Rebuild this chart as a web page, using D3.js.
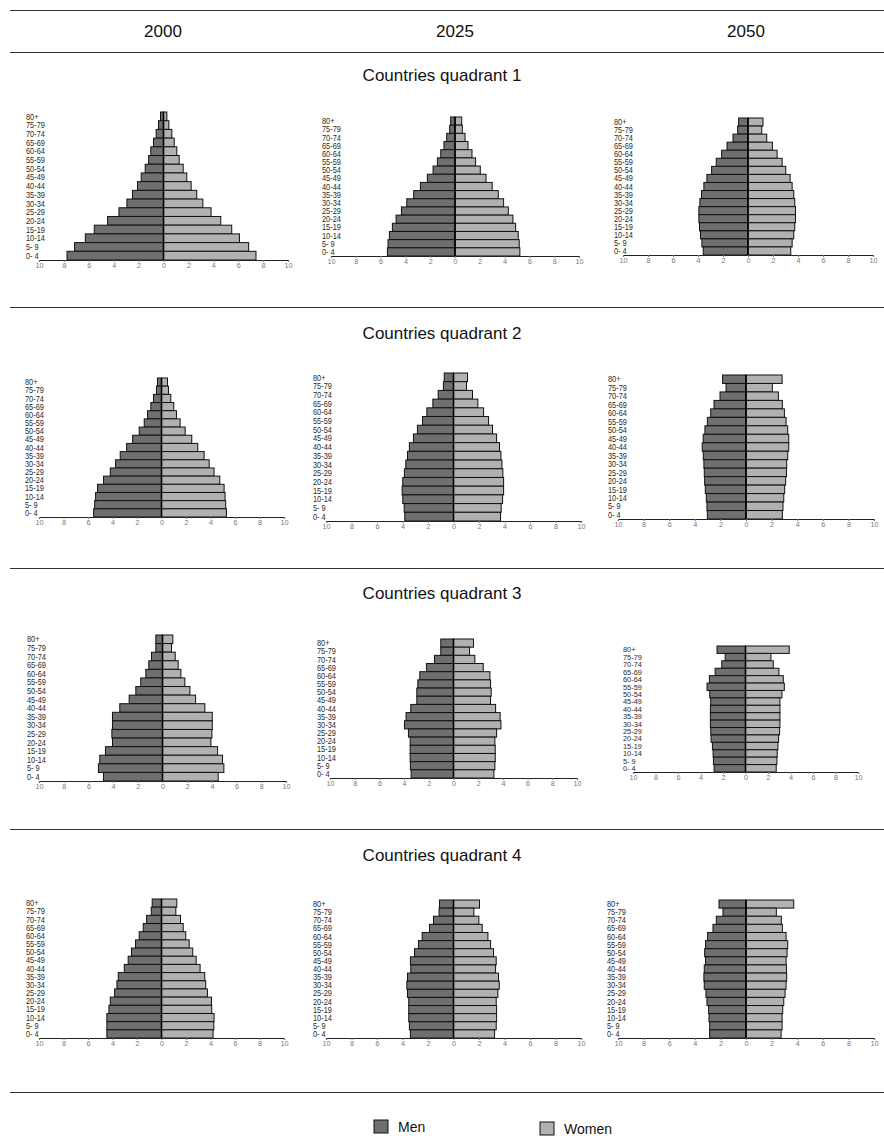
<!DOCTYPE html>
<html><head><meta charset="utf-8">
<script src="https://cdn.jsdelivr.net/npm/d3@7"></script>
<style>
body{margin:0;background:#fff;}
svg{display:block;font-family:"Liberation Sans",Arial,sans-serif;}
</style></head>
<body><svg id="c" width="884" height="1140"></svg>
<script>
// ---- data ----
const years = ["2000", "2025", "2050"];
const quadrants = ["Countries quadrant 1", "Countries quadrant 2", "Countries quadrant 3", "Countries quadrant 4"];
const ageGroups = ["80+","75-79","70-74","65-69","60-64","55-59","50-54","45-49","40-44","35-39","30-34","25-29","20-24","15-19","10-14","5- 9","0- 4"];
const tickValues = [-10,-8,-6,-4,-2,0,2,4,6,8,10];
const legendLabels = ["Men", "Women"];

// values ordered from 80+ (top) down to 0-4 (bottom), percent of population
const menQ1_2000   = [0.24,0.4,0.59,0.8,1.02,1.2,1.47,1.79,2.09,2.49,2.94,3.58,4.49,5.56,6.28,7.14,7.75];
const womenQ1_2000 = [0.27,0.43,0.67,0.86,1.07,1.26,1.58,1.87,2.22,2.67,3.16,3.82,4.6,5.48,6.1,6.84,7.43];
const menQ1_2025   = [0.35,0.43,0.67,0.89,1.15,1.42,1.77,2.23,2.79,3.33,3.89,4.32,4.75,5.05,5.29,5.4,5.45];
const womenQ1_2025 = [0.54,0.59,0.81,1.05,1.37,1.66,2.04,2.5,3.0,3.49,3.92,4.3,4.67,4.89,5.1,5.18,5.23];
const menQ1_2050   = [0.75,0.83,1.2,1.68,2.11,2.54,2.91,3.29,3.53,3.72,3.85,3.93,3.93,3.88,3.8,3.69,3.58];
const womenQ1_2050 = [1.2,1.1,1.5,1.95,2.33,2.73,3.02,3.37,3.53,3.66,3.74,3.8,3.8,3.74,3.66,3.53,3.42];

const menQ2_2000   = [0.33,0.41,0.65,0.87,1.14,1.41,1.82,2.36,2.85,3.37,3.75,4.18,4.73,5.22,5.38,5.46,5.54];
const womenQ2_2000 = [0.49,0.57,0.76,1.0,1.22,1.52,1.93,2.47,2.96,3.48,3.89,4.29,4.76,5.11,5.19,5.24,5.3];
const menQ2_2025   = [0.73,0.79,1.2,1.62,2.09,2.43,2.83,3.14,3.46,3.61,3.74,3.85,3.98,4.03,3.98,3.87,3.82];
const womenQ2_2025 = [1.1,1.02,1.49,1.91,2.36,2.75,3.06,3.38,3.61,3.72,3.8,3.87,3.93,3.93,3.85,3.74,3.69];
const menQ2_2050   = [1.83,1.56,2.03,2.5,2.76,3.02,3.21,3.34,3.42,3.34,3.29,3.26,3.23,3.18,3.1,3.05,3.02];
const womenQ2_2050 = [2.82,2.06,2.53,2.84,3.0,3.13,3.26,3.34,3.34,3.26,3.18,3.16,3.1,3.02,2.95,2.89,2.84];

const menQ3_2000   = [0.54,0.54,0.89,1.11,1.35,1.76,2.16,2.7,3.46,4.05,4.05,4.1,4.05,4.62,5.08,5.19,4.78];
const womenQ3_2000 = [0.84,0.73,1.03,1.27,1.49,1.81,2.22,2.68,3.43,4.03,4.03,4.0,3.92,4.46,4.86,4.97,4.51];
const menQ3_2025   = [1.03,1.03,1.54,2.19,2.73,2.89,2.97,2.97,3.46,3.84,3.97,3.65,3.51,3.51,3.51,3.49,3.43];
const womenQ3_2025 = [1.62,1.3,1.73,2.41,2.95,3.0,3.05,3.0,3.41,3.78,3.84,3.49,3.35,3.38,3.38,3.35,3.27];
const menQ3_2050   = [2.53,1.81,2.11,2.7,3.21,3.42,3.18,3.09,3.12,3.12,3.12,3.09,3.06,2.94,2.88,2.85,2.79];
const womenQ3_2050 = [3.89,2.26,2.47,2.97,3.36,3.45,3.24,3.06,3.06,3.06,3.06,3.03,2.94,2.88,2.82,2.79,2.73];

const menQ4_2000   = [0.76,0.84,1.22,1.49,1.82,2.12,2.45,2.72,3.04,3.53,3.64,3.83,4.18,4.29,4.46,4.46,4.46];
const womenQ4_2000 = [1.25,1.17,1.55,1.77,1.98,2.26,2.55,2.83,3.15,3.53,3.61,3.75,4.08,4.1,4.29,4.27,4.21];
const menQ4_2025   = [1.1,1.13,1.57,1.88,2.46,2.75,3.06,3.38,3.35,3.61,3.66,3.61,3.51,3.51,3.51,3.46,3.38];
const womenQ4_2025 = [2.04,1.6,1.99,2.25,2.7,2.91,3.14,3.35,3.3,3.53,3.59,3.48,3.35,3.38,3.38,3.35,3.22];
const menQ4_2050   = [2.11,1.8,2.32,2.58,3.0,3.16,3.23,3.16,3.26,3.29,3.26,3.13,3.05,2.92,2.89,2.84,2.84];
const womenQ4_2050 = [3.73,2.37,2.76,2.84,3.13,3.26,3.21,3.13,3.16,3.18,3.13,3.05,2.95,2.87,2.82,2.82,2.74];

// ---- layout (positions only) ----
const series = [
  [menQ1_2000, womenQ1_2000], [menQ1_2025, womenQ1_2025], [menQ1_2050, womenQ1_2050],
  [menQ2_2000, womenQ2_2000], [menQ2_2025, womenQ2_2025], [menQ2_2050, womenQ2_2050],
  [menQ3_2000, womenQ3_2000], [menQ3_2025, womenQ3_2025], [menQ3_2050, womenQ3_2050],
  [menQ4_2000, womenQ4_2000], [menQ4_2025, womenQ4_2025], [menQ4_2050, womenQ4_2050]
];
const panelBoxes = [
  {x0:39, x1:288, top:112, axisY:260, labelX:26},
  {x0:331,x1:579, top:117, axisY:256, labelX:322},
  {x0:623,x1:873, top:118, axisY:255, labelX:614},
  {x0:39, x1:284, top:378, axisY:517, labelX:25},
  {x0:326,x1:581, top:373, axisY:521, labelX:313},
  {x0:618,x1:874, top:375, axisY:519, labelX:608},
  {x0:39, x1:286, top:635, axisY:781, labelX:27},
  {x0:330,x1:577, top:639, axisY:778, labelX:317},
  {x0:633,x1:858, top:646, axisY:772, labelX:623},
  {x0:39, x1:284, top:899, axisY:1038, labelX:26},
  {x0:326,x1:581, top:900, axisY:1038, labelX:313},
  {x0:618,x1:874, top:900, axisY:1038, labelX:607}
];
const menColor = "#6f6f6f", womenColor = "#b1b1b1";

const svg = d3.select("#c");

// rules
[10, 52, 307, 568, 829, 1092].forEach(y => {
  svg.append("line").attr("x1", 10).attr("x2", 884).attr("y1", y + 0.5).attr("y2", y + 0.5)
    .attr("stroke", "#333").attr("stroke-width", 1);
});
// year headers
const yearX = [163, 455, 746];
years.forEach((t, i) => {
  svg.append("text").attr("x", yearX[i]).attr("y", 37).attr("text-anchor", "middle")
    .attr("font-size", 17).attr("fill", "#111").text(t);
});
// quadrant titles
const titleY = [81, 339, 599, 861];
quadrants.forEach((t, i) => {
  svg.append("text").attr("x", 442).attr("y", titleY[i]).attr("text-anchor", "middle")
    .attr("font-size", 17).attr("fill", "#111").text(t);
});

// panels
series.forEach(([men, women], i) => {
  const b = panelBoxes[i];
  const x = d3.scaleLinear().domain([-10, 10]).range([b.x0, b.x1]);
  const y = d3.scaleBand().domain(ageGroups).range([b.top, b.axisY]).padding(0);
  const g = svg.append("g");

  g.selectAll(".m").data(men).join("rect")
    .attr("x", d => x(-d)).attr("width", d => x(0) - x(-d))
    .attr("y", (d, k) => y(ageGroups[k])).attr("height", y.bandwidth())
    .attr("fill", menColor).attr("stroke", "#111").attr("stroke-width", 1);
  g.selectAll(".w").data(women).join("rect")
    .attr("x", x(0)).attr("width", d => x(d) - x(0))
    .attr("y", (d, k) => y(ageGroups[k])).attr("height", y.bandwidth())
    .attr("fill", womenColor).attr("stroke", "#111").attr("stroke-width", 1);

  // centre line
  g.append("line").attr("x1", x(0)).attr("x2", x(0)).attr("y1", b.top).attr("y2", b.axisY)
    .attr("stroke", "#000").attr("stroke-width", 1.6);

  // age labels (tall, narrow lettering)
  const fs = Math.min(8.8, y.bandwidth() * 1.04);
  g.selectAll(".al").data(ageGroups).join("text")
    .attr("x", b.labelX).attr("y", d => y(d) + y.bandwidth() / 2 + fs * 0.36)
    .attr("font-size", fs).attr("fill", "#2a2a2a").text(d => d)
    .each(function () {
      const len = this.getComputedTextLength();
      d3.select(this).attr("textLength", len * (0.84 * 8.8 / fs)).attr("lengthAdjust", "spacingAndGlyphs");
    });

  // x axis
  const ax = g.append("g").attr("transform", `translate(0,${b.axisY})`)
    .call(d3.axisBottom(x).tickValues(tickValues).tickFormat(d => Math.abs(d)).tickSize(2).tickPadding(1));
  ax.select(".domain").attr("stroke", "#222").attr("stroke-width", 1.2);
  ax.selectAll(".tick line").attr("stroke", "#777");
  ax.selectAll(".tick text").attr("font-size", 7.2).attr("fill", "#777")
    .attr("font-family", "'Liberation Sans',Arial,sans-serif");
});

// legend
const legend = [
  {label: legendLabels[0], color: menColor, x: 374, y: 1120},
  {label: legendLabels[1], color: womenColor, x: 540, y: 1122}
];
legend.forEach(l => {
  svg.append("rect").attr("x", l.x).attr("y", l.y).attr("width", 14).attr("height", 13)
    .attr("fill", l.color).attr("stroke", "#111").attr("stroke-width", 1);
  svg.append("text").attr("x", l.x + 24).attr("y", l.y + 12).attr("font-size", 14)
    .attr("fill", "#111").text(l.label);
});
</script>
</body></html>
